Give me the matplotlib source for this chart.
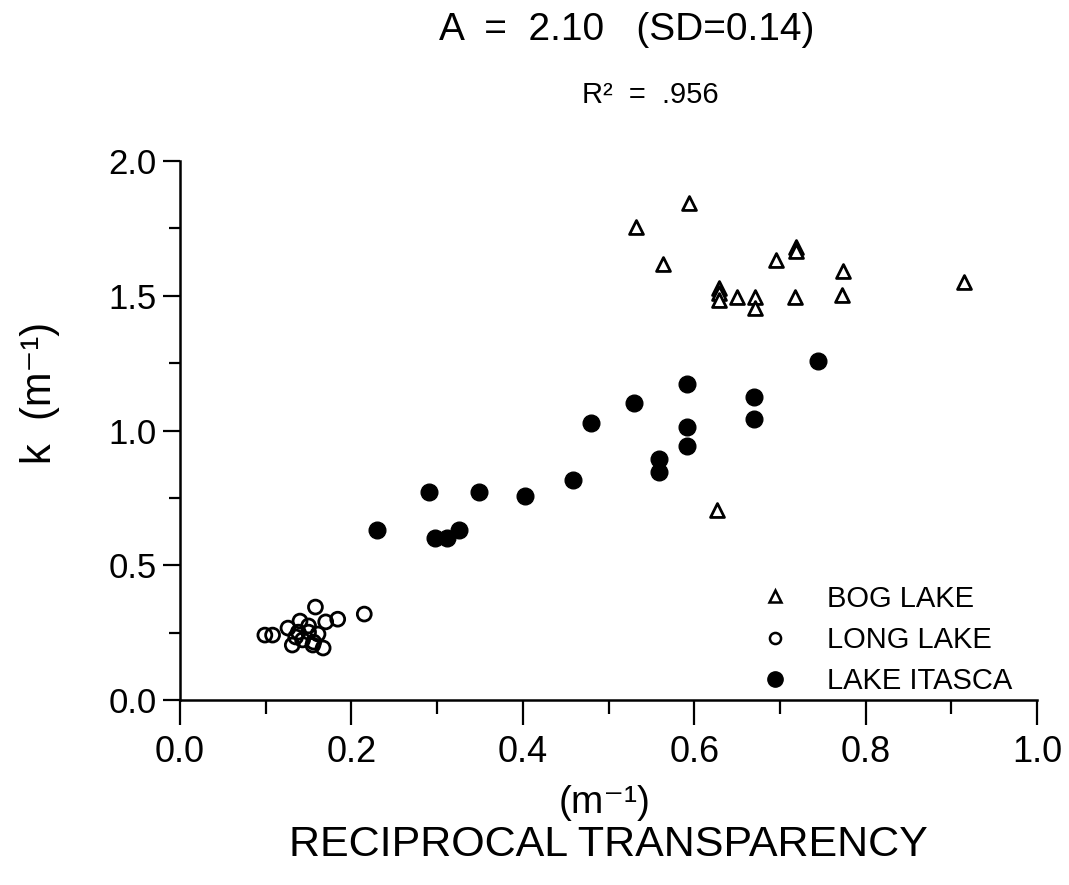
import matplotlib
matplotlib.use("Agg")
import matplotlib.pyplot as plt
from matplotlib.lines import Line2D
from matplotlib.ticker import MultipleLocator

# ---- data ----
bog_x = [0.594, 0.532, 0.563, 0.629, 0.629, 0.629, 0.650, 0.671, 0.671, 0.695,
         0.719, 0.719, 0.718, 0.774, 0.773, 0.915, 0.627]
bog_y = [1.844, 1.755, 1.618, 1.530, 1.510, 1.484, 1.495, 1.495, 1.455, 1.633,
         1.680, 1.668, 1.495, 1.592, 1.503, 1.550, 0.705]

long_x = [0.158, 0.215, 0.184, 0.170, 0.140, 0.150, 0.126, 0.099, 0.108, 0.161,
          0.138, 0.143, 0.156, 0.131, 0.135, 0.167, 0.155, 0.150]
long_y = [0.345, 0.319, 0.300, 0.290, 0.293, 0.275, 0.267, 0.241, 0.241, 0.245,
          0.252, 0.223, 0.215, 0.204, 0.234, 0.193, 0.204, 0.252]

itasca_x = [0.745, 0.592, 0.530, 0.670, 0.670, 0.480, 0.592, 0.591, 0.559, 0.559,
            0.458, 0.403, 0.290, 0.349, 0.230, 0.297, 0.311, 0.325]
itasca_y = [1.258, 1.173, 1.102, 1.124, 1.043, 1.028, 1.013, 0.943, 0.894, 0.846,
            0.816, 0.757, 0.772, 0.772, 0.631, 0.601, 0.601, 0.631]

labels = ["BOG LAKE", "LONG LAKE", "LAKE ITASCA"]

reg = ["Liberation Sans", "DejaVu Sans"]

fig = plt.figure(figsize=(10.69, 8.85), dpi=100)
ax = fig.add_axes([0.1684, 0.209, 0.8017, 0.609])

ax.scatter(bog_x, bog_y, marker="^", s=10**2, facecolors="white",
           edgecolors="black", linewidths=2.0, zorder=3, clip_on=False)
ax.scatter(long_x, long_y, marker="o", s=10**2, facecolors="none",
           edgecolors="black", linewidths=2.0, zorder=3, clip_on=False)
ax.scatter(itasca_x, itasca_y, marker="o", s=12**2, color="black",
           zorder=3, clip_on=False)

ax.set_xlim(0, 1.0)
ax.set_ylim(0, 2.0)
for s in ["top", "right"]:
    ax.spines[s].set_visible(False)
for s in ["left", "bottom"]:
    ax.spines[s].set_linewidth(1.8)

ax.xaxis.set_major_locator(MultipleLocator(0.2))
ax.xaxis.set_minor_locator(MultipleLocator(0.1))
ax.yaxis.set_major_locator(MultipleLocator(0.5))
ax.yaxis.set_minor_locator(MultipleLocator(0.25))
ax.xaxis.set_major_formatter(lambda v, p: f"{v:.1f}")
ax.yaxis.set_major_formatter(lambda v, p: f"{v:.1f}")

ax.tick_params(axis="x", which="major", length=18, width=1.6, pad=7)
ax.tick_params(axis="x", which="minor", length=10, width=1.6)
ax.tick_params(axis="y", which="major", length=12, width=1.6, pad=5)
ax.tick_params(axis="y", which="minor", length=8, width=1.6)
for t in ax.get_xticklabels():
    t.set_family(reg)
    t.set_fontsize(26)
for t in ax.get_yticklabels():
    t.set_family(reg)
    t.set_fontsize(25)

handles = [
    Line2D([], [], ls="none", marker="^", ms=8, mfc="white", mec="black", mew=1.8),
    Line2D([], [], ls="none", marker="o", ms=8, mfc="white", mec="black", mew=1.8),
    Line2D([], [], ls="none", marker="o", ms=11, color="black"),
]
ax.legend(handles, labels, loc="lower right", bbox_to_anchor=(0.985, -0.012),
          frameon=False, prop={"family": reg, "size": 21},
          handletextpad=1.3, labelspacing=0.45, handlelength=1.0,
          borderaxespad=0.0)

fig.text(0.5865, 0.966, "A  =  2.10   (SD=0.14)", ha="center", va="center",
         family=reg, fontsize=28)
fig.text(0.608, 0.893, "R²  =  .956", ha="center", va="center",
         family=reg, fontsize=21)
fig.text(0.0374, 0.556, "k  (m⁻¹)", ha="center", va="center", rotation=90,
         family=reg, fontsize=30)
fig.text(0.566, 0.093, "(m⁻¹)", ha="center", va="center",
         family=reg, fontsize=28)
fig.text(0.569, 0.045, "RECIPROCAL TRANSPARENCY", ha="center", va="center",
         family=reg, fontsize=31)

fig.savefig("out.png", dpi=100)
